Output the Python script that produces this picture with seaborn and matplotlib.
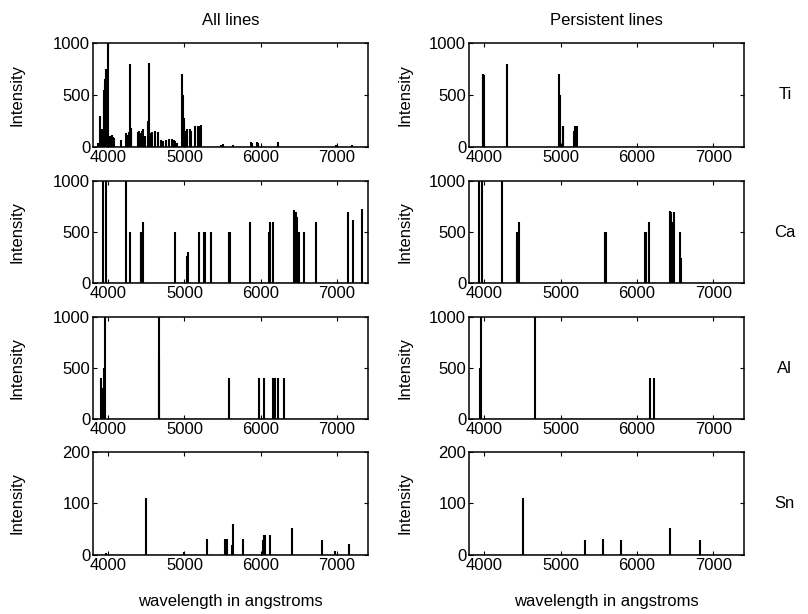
import matplotlib

matplotlib.use("Agg")
import matplotlib.pyplot as plt
import pandas as pd
import seaborn as sns

# spectral lines: wavelength (angstrom) and intensity
TI_ALL_WL = [3865, 3896, 3918, 3940, 3948, 3956, 3958, 3966, 3981, 3990, 3999, 4008,
             4030, 4045, 4060, 4078, 4171, 4240, 4256, 4270, 4290, 4300, 4305,
             4390, 4405, 4420, 4440, 4455, 4480, 4520, 4534, 4545, 4577, 4612, 4651,
             4690, 4720, 4760, 4800, 4830, 4856, 4880, 4900, 4970, 4981, 4991, 5000,
             5015, 5030, 5070, 5090, 5140, 5173, 5193, 5210, 5480, 5500, 5632,
             5866, 5880, 5953, 5966, 6230, 6985, 7200]
TI_ALL_INT = [40, 300, 170, 550, 450, 600, 650, 750, 700, 700, 1000, 70,
              110, 120, 100, 90, 70, 130, 120, 140, 800, 180, 140,
              140, 150, 130, 150, 170, 110, 250, 810, 130, 140, 150, 140,
              70, 60, 70, 80, 80, 70, 60, 40, 700, 500, 280, 210,
              150, 170, 170, 150, 200, 200, 200, 210, 20, 30, 20,
              50, 40, 50, 40, 50, 20, 20]
TI_PERS_WL = [3981, 3990, 3999, 4300, 4981, 4991, 5036, 5038, 5173, 5193, 5210]
TI_PERS_INT = [700, 700, 690, 800, 700, 500, 200, 200, 150, 200, 200]

CA_ALL_WL = [3934, 3968, 4227, 4283, 4425, 4435, 4456, 4878, 5030, 5041, 5188,
             5262, 5265, 5349, 5589, 5594, 5857, 6102, 6122, 6162, 6439, 6449, 6462,
             6472, 6500, 6572, 6718, 7148, 7202, 7326]
CA_ALL_INT = [1000, 1000, 1000, 500, 500, 500, 600, 500, 270, 300, 500,
              500, 500, 500, 500, 500, 600, 500, 600, 600, 720, 700, 700,
              650, 500, 500, 600, 700, 620, 730]
CA_PERS_WL = [3934, 3968, 4227, 4425, 4435, 4456, 5589, 5594, 6102, 6122, 6162,
              6439, 6449, 6462, 6493, 6572, 6580]
CA_PERS_INT = [1000, 1000, 1000, 400, 500, 600, 500, 500, 500, 500, 600,
               710, 700, 600, 700, 500, 250]

AL_ALL_WL = [3900, 3930, 3944, 3961, 4663, 4667, 5589, 5982, 6047, 6165, 6191,
             6230, 6309]
AL_ALL_INT = [400, 300, 500, 1000, 1000, 600, 400, 400, 400, 400, 400, 400, 400]
AL_PERS_WL = [3944, 3961, 4663, 6172, 6225]
AL_PERS_INT = [500, 1000, 1000, 400, 400]

SN_ALL_WL = [3975, 4499, 5000, 5297, 5533, 5554, 5624, 5630, 5764, 6025, 6040,
             6057, 6126, 6410, 6802, 6967, 7151]
SN_ALL_INT = [3, 110, 5, 32, 32, 32, 20, 60, 32, 30, 38, 38, 38, 52, 30, 8, 22]
SN_PERS_WL = [4514, 5317, 5554, 5787, 6432, 6830]
SN_PERS_INT = [110, 30, 32, 30, 52, 30]

ELEMENTS = ["Ti", "Ca", "Al", "Sn"]
ALL_LINES = [(TI_ALL_WL, TI_ALL_INT), (CA_ALL_WL, CA_ALL_INT),
             (AL_ALL_WL, AL_ALL_INT), (SN_ALL_WL, SN_ALL_INT)]
PERSISTENT = [(TI_PERS_WL, TI_PERS_INT), (CA_PERS_WL, CA_PERS_INT),
              (AL_PERS_WL, AL_PERS_INT), (SN_PERS_WL, SN_PERS_INT)]
Y_MAX = [1000, 1000, 1000, 200]
Y_TICKS = [[0, 500, 1000], [0, 500, 1000], [0, 500, 1000], [0, 100, 200]]
X_TICKS = [4000, 5000, 6000, 7000]
COL_TITLES = ["All lines", "Persistent lines"]

sns.set_theme(style="ticks")
plt.rcParams["font.family"] = ["Liberation Sans", "DejaVu Sans"]
plt.rcParams["xtick.direction"] = "in"
plt.rcParams["ytick.direction"] = "in"
plt.rcParams["text.color"] = "black"
plt.rcParams["axes.labelcolor"] = "black"

FS = 12


def draw_lines(ax, wl, inten, ymax, yticks):
    df = pd.DataFrame({"wavelength": wl, "intensity": inten})
    ax.vlines(df["wavelength"], 0, df["intensity"], color="black", linewidth=1.5)
    ax.plot([3800, 7400], [0, 0], color="black", linewidth=1.0)
    ax.set_xlim(3800, 7400)
    ax.set_ylim(0, ymax)
    ax.set_xticks(X_TICKS)
    ax.set_yticks(yticks)
    ax.tick_params(axis="both", labelsize=FS, length=3, width=0.8,
                   top=True, right=True, pad=2, colors="black")
    for spine in ax.spines.values():
        spine.set_color("black")
        spine.set_linewidth(1.1)
    ax.set_ylabel("Intensity", fontsize=FS)


fig = plt.figure(figsize=(8.08, 6.14), dpi=100)
lefts = [0.115, 0.5804]
bottoms = [0.7606, 0.539, 0.3176, 0.0961]
heights = [0.1694, 0.166, 0.166, 0.1678]
label_x = [-0.248, -0.205]

for row, elem in enumerate(ELEMENTS):
    for col, data in enumerate([ALL_LINES, PERSISTENT]):
        ax = fig.add_axes([lefts[col], bottoms[row], 0.34, heights[row]])
        wl, inten = data[row]
        draw_lines(ax, wl, inten, Y_MAX[row], Y_TICKS[row])
        ax.yaxis.set_label_coords(label_x[col], 0.5)
        if row == 0:
            ax.set_title(COL_TITLES[col], fontsize=FS, pad=13, color="black")
        if row == 3:
            ax.set_xlabel("wavelength in angstroms", fontsize=FS, labelpad=15)
        if col == 1:
            ax.text(1.15, 0.5, elem, transform=ax.transAxes, fontsize=FS,
                    ha="center", va="center", color="black")

fig.savefig("out.png", dpi=100)
